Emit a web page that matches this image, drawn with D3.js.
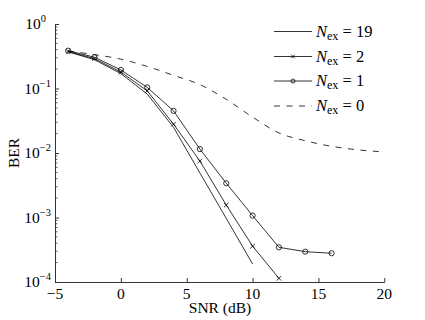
<!DOCTYPE html>
<html><head><meta charset="utf-8">
<script src="https://cdn.jsdelivr.net/npm/d3@7"></script>
<style>body{margin:0;background:#fff}svg{display:block}text{font-family:"Liberation Serif","Times New Roman",serif;fill:#000}</style>
</head><body>
<svg id="c" width="425" height="320"></svg>
<script>
const snrEx19 = [-4, -2, 0, 2, 4, 6, 8, 10];
const berEx19 = [0.37, 0.28, 0.17, 0.082, 0.025, 0.0049, 0.00097, 0.00019];
const snrEx2 = [-4, -2, 0, 2, 4, 6, 8, 10, 12];
const berEx2 = [0.375, 0.29, 0.18, 0.092, 0.028, 0.0075, 0.00156, 0.00036, 0.000114];
const snrEx1 = [-4, -2, 0, 2, 4, 6, 8, 10, 12, 14, 16];
const berEx1 = [0.386, 0.305, 0.194, 0.104, 0.045, 0.0115, 0.0034, 0.00107, 0.000345, 0.000295, 0.000279];
const snrEx0 = [-4, -2, 0, 2, 4, 6, 8, 10, 12, 14, 16, 18, 20];
const berEx0 = [0.38, 0.335, 0.285, 0.22, 0.16, 0.115, 0.068, 0.036, 0.0205, 0.0155, 0.0127, 0.0112, 0.0104];
const xTicks = [-5, 0, 5, 10, 15, 20];
const yTickExp = [0, -1, -2, -3, -4];
const legendLabels = ["19", "2", "1", "0"];

const svg = d3.select("#c");
const x = d3.scaleLinear().domain([-5, 20]).range([55, 384.3]);
const y = d3.scaleLog().domain([1e-4, 1]).range([282, 24]);
const ink = "#000";

const gx = svg.append("g").attr("transform", "translate(0,282)")
  .call(d3.axisBottom(x).tickValues(xTicks).tickSizeInner(-4).tickSizeOuter(0).tickFormat(""));
const gy = svg.append("g").attr("transform", "translate(55,0)")
  .call(d3.axisLeft(y).tickValues(yTickExp.map(e => Math.pow(10, e))).tickSizeInner(-4).tickSizeOuter(0).tickFormat(""));
[gx, gy].forEach(g => { g.selectAll("path,line").attr("stroke", "#333").attr("stroke-width", 1); });
const minor = [];
for (let e = -4; e < 0; e++) for (let m = 2; m <= 9; m++) minor.push(m * Math.pow(10, e));
svg.append("g").selectAll("line").data(minor).join("line")
  .attr("x1", 55).attr("x2", 57.5).attr("y1", d => y(d)).attr("y2", d => y(d))
  .attr("stroke", "#333").attr("stroke-width", 0.8);

svg.append("g").selectAll("text").data(xTicks).join("text")
  .attr("x", d => x(d)).attr("y", 299).attr("text-anchor", "middle").attr("font-size", 15.5)
  .text(d => d < 0 ? "\u2212" + Math.abs(d) : d);
const yl = svg.append("g").selectAll("text").data(yTickExp).join("text")
  .attr("y", d => y(Math.pow(10, d)) + 5).attr("text-anchor", "end").attr("font-size", 15.5);
yl.append("tspan").text("10");
yl.append("tspan").attr("dy", -7).attr("font-size", 10.5).text(d => d < 0 ? "\u2212" + Math.abs(d) : d);
yl.attr("x", d => d < 0 ? 51 : 46);

svg.append("text").attr("x", 220).attr("y", 313).attr("text-anchor", "middle").attr("font-size", 15.5).text("SNR (dB)");
svg.append("text").attr("transform", "translate(19,153) rotate(-90)").attr("text-anchor", "middle").attr("font-size", 15.5).text("BER");

const line = d3.line().x(d => x(d[0])).y(d => y(d[1]));
const zip = (a, b) => a.map((v, i) => [v, b[i]]);
const s19 = zip(snrEx19, berEx19), s2 = zip(snrEx2, berEx2), s1 = zip(snrEx1, berEx1), s0 = zip(snrEx0, berEx0);
const curve0 = d3.line().x(d => x(d[0])).y(d => y(d[1])).curve(d3.curveMonotoneX);

svg.append("path").attr("d", curve0(s0)).attr("fill", "none").attr("stroke", ink).attr("stroke-width", 0.8).attr("stroke-dasharray", "6,6.5");
[s19, s2, s1].forEach(s => svg.append("path").attr("d", line(s)).attr("fill", "none").attr("stroke", ink).attr("stroke-width", 0.8));

function cross(g, cx, cy, r) {
  g.append("path").attr("d", `M${cx - r},${cy - r}L${cx + r},${cy + r}M${cx - r},${cy + r}L${cx + r},${cy - r}`)
    .attr("stroke", ink).attr("stroke-width", 0.8);
}
function circ(g, cx, cy, r) {
  g.append("circle").attr("cx", cx).attr("cy", cy).attr("r", r).attr("fill", "none").attr("stroke", ink).attr("stroke-width", 0.8);
}
const mk = svg.append("g");
s2.forEach(d => cross(mk, x(d[0]), y(d[1]), 2.3));
s1.forEach(d => circ(mk, x(d[0]), y(d[1]), 2.6));

const ly = [31.5, 56.5, 81, 106];
const lg = svg.append("g");
ly.forEach((yy, i) => {
  const l = lg.append("line").attr("x1", 274).attr("x2", 312).attr("y1", yy).attr("y2", yy)
    .attr("stroke", ink).attr("stroke-width", 0.8);
  if (i === 3) l.attr("stroke-dasharray", "6,6.5");
  if (i === 1) cross(lg, 293, yy, 1.8);
  if (i === 2) circ(lg, 293, yy, 2);
  const t = lg.append("text").attr("x", 316).attr("y", yy + 5).attr("font-size", 16.5);
  t.append("tspan").attr("font-style", "italic").text("N");
  t.append("tspan").attr("font-size", 12).attr("dy", 3).text("ex");
  t.append("tspan").attr("dy", -3).text(" = " + legendLabels[i]);
});
</script>
</body></html>
